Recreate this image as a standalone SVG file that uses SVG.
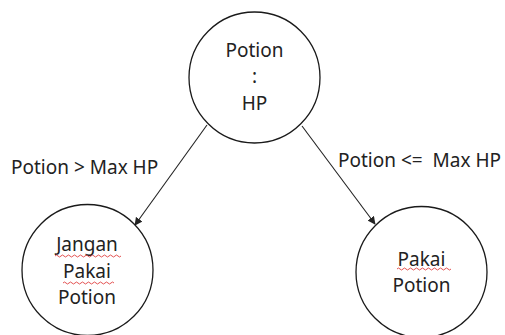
<svg xmlns="http://www.w3.org/2000/svg" width="505" height="335" viewBox="0 0 505 335">
<style>
.node{fill:#fff;stroke:#1a1a1a;stroke-width:1.3}
.t{font-family:"Noto Sans","Open Sans",sans-serif;font-size:19px;fill:#222;text-anchor:middle}
.lbl{font-family:"Noto Sans","Open Sans",sans-serif;font-size:19px;fill:#222}
.edge{stroke:#222;stroke-width:1.1;fill:none}
.sq{stroke:#e04040;stroke-width:0.9;fill:none}
</style>
<defs>
<marker id="ah" viewBox="0 0 10 10" refX="9" refY="5" markerWidth="8" markerHeight="8" markerUnits="userSpaceOnUse" orient="auto">
<path d="M0,0 L10,5 L0,10 z" fill="#222"/>
</marker>
</defs>
<rect width="505" height="335" fill="#fff"/>
<g id="connectors">
<line class="edge" x1="207" y1="125" x2="135" y2="225" marker-end="url(#ah)"/>
<line class="edge" x1="302" y1="126" x2="375" y2="224" marker-end="url(#ah)"/>
<text class="lbl" x="11" y="174">Potion &gt; Max HP</text>
<text class="lbl" x="338" y="167" xml:space="preserve">Potion &lt;=  Max HP</text>
</g>
<g id="root">
<circle class="node" cx="254.5" cy="77.5" r="65.5"/>
<text class="t" x="254.5" y="57">Potion</text>
<text class="t" x="254.5" y="83">:</text>
<text class="t" x="254.5" y="110">HP</text>
</g>
<g id="jangan">
<circle class="node" cx="87.5" cy="270" r="65.5"/>
<text class="t" x="87" y="251">Jangan</text>
<text class="t" x="87" y="278">Pakai</text>
<text class="t" x="87" y="304">Potion</text>
<path class="sq" d="M55,256 q1.5,-2 3,0 t3,0 t3,0 t3,0 t3,0 t3,0 t3,0 t3,0 t3,0 t3,0 t3,0 t3,0 t3,0 t3,0 t3,0 t3,0 t3,0 t3,0 t3,0 t3,0 t3,0 t3,0"/>
<path class="sq" d="M63,283 q1.5,-2 3,0 t3,0 t3,0 t3,0 t3,0 t3,0 t3,0 t3,0 t3,0 t3,0 t3,0 t3,0 t3,0 t3,0 t3,0 t3,0 t3,0"/>
</g>
<g id="pakai">
<circle class="node" cx="421.5" cy="272" r="65.5"/>
<text class="t" x="421.5" y="266">Pakai</text>
<text class="t" x="421.5" y="292">Potion</text>
<path class="sq" d="M397,269 q1.5,-2 3,0 t3,0 t3,0 t3,0 t3,0 t3,0 t3,0 t3,0 t3,0 t3,0 t3,0 t3,0 t3,0 t3,0 t3,0 t3,0 t3,0 t3,0"/>
</g>
</svg>
